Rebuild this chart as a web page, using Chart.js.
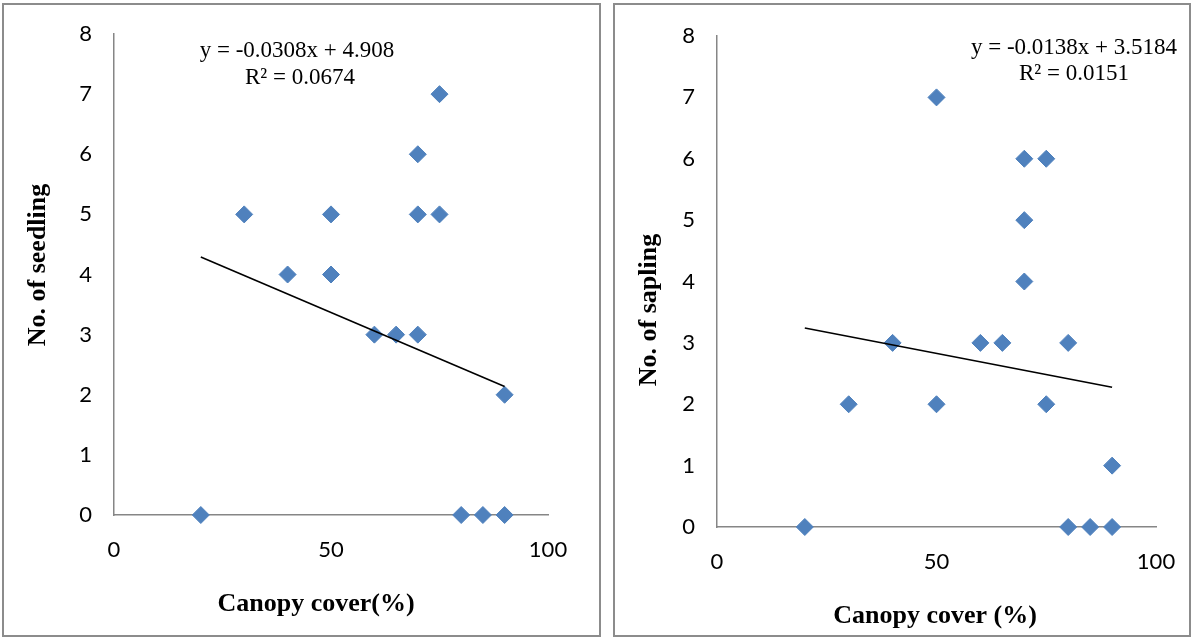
<!DOCTYPE html>
<html>
<head>
<meta charset="utf-8">
<script src="https://cdn.jsdelivr.net/npm/chart.js@4"></script>
<style>
  html, body { margin: 0; padding: 0; background: #fff; }
  body { width: 1192px; height: 639px; position: relative; overflow: hidden; }
  .panel { position: absolute; border: 2px solid #8c8c8c; box-sizing: border-box; }
  .panel canvas { position: absolute; left: 0; top: 0; }
</style>
</head>
<body>
<div class="panel" id="p1" style="left:2px; top:3px; width:599px; height:634px;">
  <canvas id="seedChart"></canvas>
</div>
<div class="panel" id="p2" style="left:613px; top:3px; width:578px; height:634px;">
  <canvas id="saplingChart"></canvas>
</div>
<script>
// canopy cover (%) per plot and counts
const seedCanopy = [20, 30, 40, 50, 50, 60, 65, 70, 70, 70, 75, 75, 80, 85, 90, 90]
const seedCount  = [0, 5, 4, 5, 4, 3, 3, 3, 5, 6, 7, 5, 0, 0, 0, 2]

const saplingCanopy = [20, 30, 40, 50, 50, 60, 65, 70, 70, 70, 75, 75, 80, 80, 85, 90, 90]
const saplingCount  = [0, 2, 3, 7, 2, 3, 3, 6, 5, 4, 6, 2, 3, 0, 0, 1, 0]

// linear trend lines (slope, intercept, r2)
const seedFit = [-0.0308, 4.908, 0.0674]
const saplingFit = [-0.0138, 3.5184, 0.0151]

const xTicks = [0, 50, 100]
const yTicks = [0, 1, 2, 3, 4, 5, 6, 7, 8]

const blue = '#4f81bd'
const axisGrey = '#868686'

function pts(xs, ys) {
    return xs.map((x, i) => ({ x: x, y: ys[i] }))
}

function trend(xs, fit) {
    const lo = Math.min(...xs), hi = Math.max(...xs)
    return [lo, hi].map(x => ({ x: x, y: fit[0] * x + fit[1] }))
}

function fmtEq(fit) {
    return 'y = ' + fit[0] + 'x + ' + fit[1]
}

// draws the regression label and both axis titles
const labelsPlugin = {
    id: 'panelText',
    afterDraw(chart, args, o) {
        const ctx = chart.ctx
        ctx.save()
        ctx.fillStyle = '#000'
        ctx.textAlign = 'center'
        ctx.textBaseline = 'middle'
        ctx.font = '23px "Liberation Serif", serif'
        ctx.fillText(fmtEq(o.fit), o.eq[0], o.eq[1])
        ctx.fillText('R² = ' + o.fit[2], o.r2[0], o.r2[1])

        ctx.font = 'bold 26px "Liberation Serif", serif'
        ctx.fillText(o.xTitle, o.xt[0], o.xt[1])
        ctx.translate(o.yt[0], o.yt[1])
        ctx.rotate(-Math.PI / 2)
        ctx.fillText(o.yTitle, 0, 0)
        ctx.restore()
    }
}

function makeChart(id, w, h, xs, ys, fit, box, text) {
    const cv = document.getElementById(id)
    cv.width = w
    cv.height = h
    cv.style.width = w + 'px'
    cv.style.height = h + 'px'
    return new Chart(cv, {
        type: 'scatter',
        data: {
            datasets: [{
                data: pts(xs, ys),
                pointStyle: 'rectRot',
                pointRadius: 8.5,
                pointHoverRadius: 8.5,
                backgroundColor: blue,
                borderColor: blue,
                borderWidth: 1,
                clip: false,
                order: 2
            }, {
                type: 'line',
                data: trend(xs, fit),
                borderColor: '#000',
                borderWidth: 1.6,
                pointRadius: 0,
                fill: false,
                order: 1
            }]
        },
        options: {
            responsive: false,
            animation: false,
            devicePixelRatio: 1,
            layout: { padding: { top: box.top, right: box.right, left: 0, bottom: 0 } },
            plugins: {
                legend: { display: false },
                tooltip: { enabled: false },
                panelText: text
            },
            scales: {
                x: {
                    type: 'linear',
                    min: 0, max: 100,
                    afterBuildTicks: s => { s.ticks = xTicks.map(v => ({ value: v })) },
                    grid: { display: false, drawTicks: false },
                    border: { display: true, color: axisGrey, width: 1.5 },
                    ticks: { color: '#000', padding: 22, maxRotation: 0,
                        font: { family: 'Lato, "Liberation Sans", sans-serif', size: 22 } },
                    afterFit: s => { s.height = box.xh; s.paddingLeft = 0; s.paddingRight = 0 }
                },
                y: {
                    type: 'linear',
                    min: 0, max: 8,
                    afterBuildTicks: s => { s.ticks = yTicks.map(v => ({ value: v })) },
                    grid: { display: false, drawTicks: false },
                    border: { display: true, color: axisGrey, width: 1.5 },
                    ticks: { color: '#000', padding: 22,
                        font: { family: 'Lato, "Liberation Sans", sans-serif', size: 22 } },
                    afterFit: s => { s.width = box.yw; s.paddingTop = 0; s.paddingBottom = 0 }
                }
            }
        },
        plugins: [labelsPlugin]
    })
}

makeChart('seedChart', 595, 630, seedCanopy, seedCount, seedFit,
    { top: 29, right: 51, yw: 110, xh: 120 },
    { fit: seedFit, eq: [293, 46], r2: [296, 73],
      xTitle: 'Canopy cover(%)', xt: [312, 599],
      yTitle: 'No. of seedling', yt: [34, 260] })

makeChart('saplingChart', 574, 630, saplingCanopy, saplingCount, saplingFit,
    { top: 31, right: 33, yw: 102, xh: 108 },
    { fit: saplingFit, eq: [459, 43], r2: [459, 69],
      xTitle: 'Canopy cover (%)', xt: [320, 611],
      yTitle: 'No. of sapling', yt: [34, 305] })
</script>
</body>
</html>
